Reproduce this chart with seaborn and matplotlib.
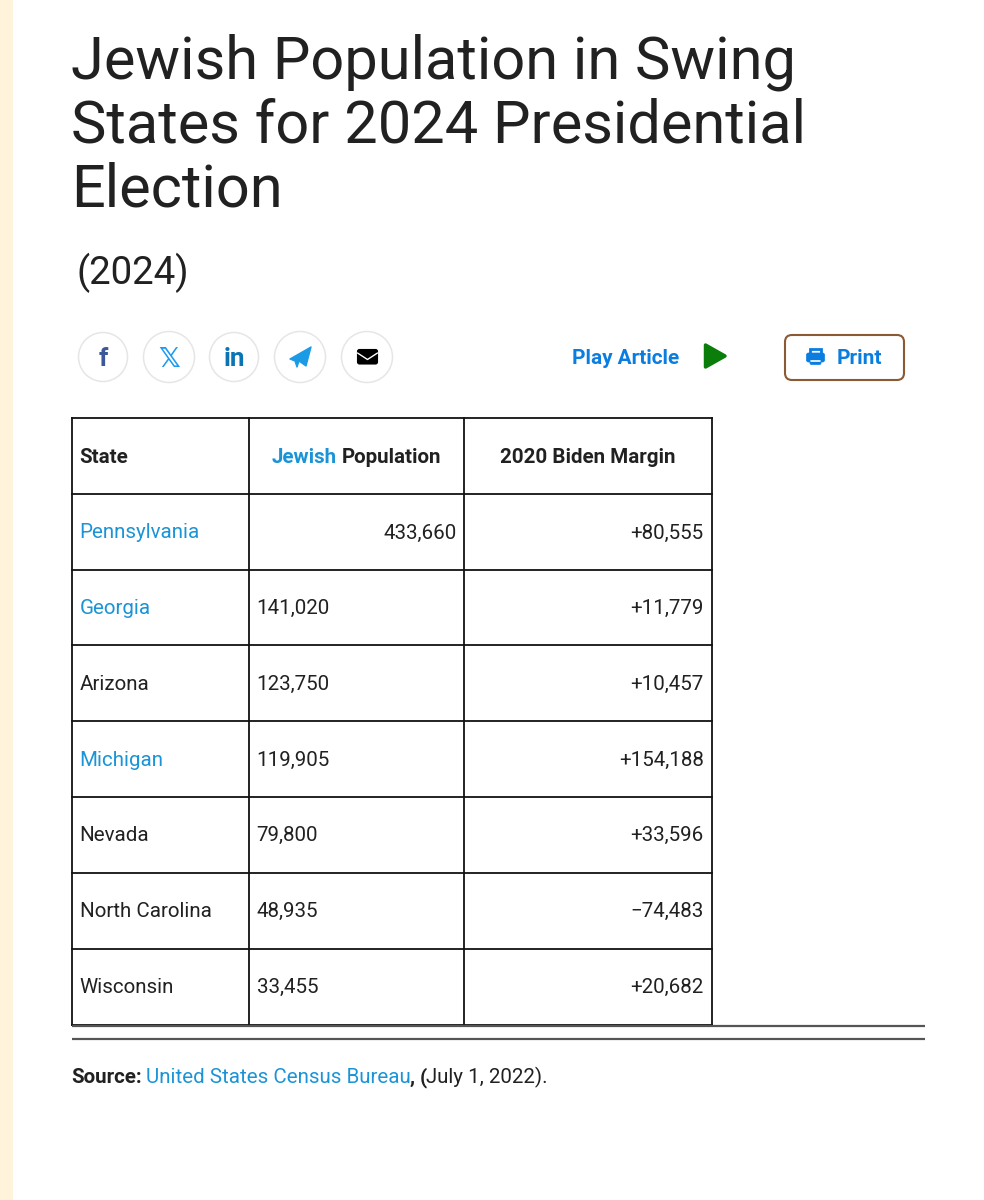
import matplotlib
matplotlib.use("Agg")
import matplotlib.pyplot as plt
from matplotlib.patches import Circle, FancyBboxPatch, Polygon, Rectangle
import seaborn as sns

states = ["Pennsylvania", "Georgia", "Arizona", "Michigan", "Nevada", "North Carolina", "Wisconsin"]
linked_states = ["Pennsylvania", "Georgia", "Michigan"]
population = ["433,660", "141,020", "123,750", "119,905", "79,800", "48,935", "33,455"]
margin = ["+80,555", "+11,779", "+10,457", "+154,188", "+33,596", "\u221274,483", "+20,682"]
title_lines = ["Jewish Population in Swing", "States for 2024 Presidential", "Election"]

col_x = [72, 249, 464, 712]
row_y = [418, 494, 570, 645, 721, 797, 873, 949, 1025]
title_y = [56, 120, 184]

INK = "#212121"
LINK = "#1a94d6"
BTN = "#0a7de0"
BODY = 20.5

sns.set_theme(style="white")
plt.rcParams["font.family"] = ["Roboto", "DejaVu Sans"]

fig = plt.figure(figsize=(9.84, 12), dpi=100, facecolor="white")
ax = fig.add_axes([0, 0, 1, 1])
ax.set_xlim(0, 984)
ax.set_ylim(1200, 0)
ax.axis("off")
sns.despine(ax=ax, left=True, bottom=True)


def T(x, y, s, px=BODY, color=INK, weight="normal", ha="left", **kw):
    return ax.text(x, y, s, fontsize=px * 0.72, color=color, fontweight=weight,
                   ha=ha, va="center_baseline", **kw)


# page strip
ax.add_patch(Rectangle((0, 0), 13, 1200, color="#fff3dc", lw=0))

# title
for line, y in zip(title_lines, title_y):
    T(71, y, line, px=59.5)
T(76.5, 268, "(2024)", px=38.5)

# share buttons
for cx, r in [(103, 24.5), (169, 25.5), (234, 24.5), (300, 25.5), (367, 25.5)]:
    ax.add_patch(Circle((cx, 357), r, fc="white", ec="#e6e6e6", lw=1.1))
T(103, 356, "f", px=26, color="#3b5998", weight="bold", ha="center")
T(169, 357, "\U0001D54F", px=27, color="#1d9bf0", weight="bold", ha="center", family="DejaVu Sans")
T(234, 356, "in", px=26, color="#0a74b5", weight="bold", ha="center")
ax.add_patch(Polygon([(290, 359), (311, 347), (306, 366), (299, 361), (297, 367), (295, 361)],
                     closed=True, fc="#1b9be6", ec="#1b9be6", lw=1, joinstyle="round"))
ax.add_patch(FancyBboxPatch((357.5, 349.5), 20, 14.5, boxstyle="round,pad=0,rounding_size=2",
                            fc="black", ec="black", lw=0.8))
ax.plot([357.5, 367.5, 377.5], [353, 359.5, 353], color="white", lw=1)

# play
T(572, 356.5, "Play Article", px=20.8, color=BTN, weight="bold")
ax.add_patch(Polygon([(705.5, 345), (725, 356), (705.5, 367)], closed=True, fc="#0a7d0a",
                     ec="#0a7d0a", lw=2.5, joinstyle="round"))

# print
ax.add_patch(FancyBboxPatch((785, 335), 119, 45, boxstyle="round,pad=0,rounding_size=7",
                            fc="white", ec="#8a5a34", lw=1.5))
ax.add_patch(Rectangle((810, 349), 11, 5, fc="white", ec=BTN, lw=2))
ax.add_patch(FancyBboxPatch((806.5, 353), 18, 9, boxstyle="round,pad=0,rounding_size=2", fc=BTN, ec=BTN, lw=0.5))
ax.add_patch(FancyBboxPatch((810, 358.5), 11, 6, boxstyle="round,pad=0,rounding_size=1.5", fc=BTN, ec=BTN, lw=0.5))
ax.plot([811, 820], [360.5, 360.5], color="white", lw=1.2)
T(837, 356.5, "Print", px=20.9, color=BTN, weight="bold")

# table grid
for x in col_x:
    ax.plot([x, x], [row_y[0], row_y[-1]], color="#111111", lw=1.3, solid_capstyle="projecting")
for y in row_y:
    ax.plot([col_x[0], col_x[-1]], [y, y], color="#111111", lw=1.3, solid_capstyle="projecting")

# header
hy = (row_y[0] + row_y[1]) / 2 - 0.7
T(79.6, hy, "State", weight="bold")
T(272, hy, "Jewish", weight="bold", color=LINK)
T(342, hy, "Population", weight="bold")
T(588, hy, "2020 Biden Margin", weight="bold", ha="center")

# rows
for i, (st, pop, m) in enumerate(zip(states, population, margin)):
    y = (row_y[i + 1] + row_y[i + 2]) / 2 - (1.0 if i < 4 else 1.6)
    T(79.6, y, st, color=LINK if st in linked_states else INK)
    if i == 0:
        T(456.4, y, pop, ha="right")
    else:
        T(256.6, y, pop)
    T(703.6, y, m, ha="right")

# rules
for y in (1026, 1039):
    ax.plot([72, 925], [y, y], color="#555555", lw=1.6, solid_capstyle="butt")

# source
T(71, 1075.6, "Source:", weight="bold")
T(146, 1075.6, "United States Census Bureau", color=LINK)
T(409.5, 1075.6, ",", weight="bold")
T(420, 1075.6, "(", weight="bold")
T(426.5, 1075.6, "July 1, 2022).")

fig.savefig("out.png", dpi=100)
